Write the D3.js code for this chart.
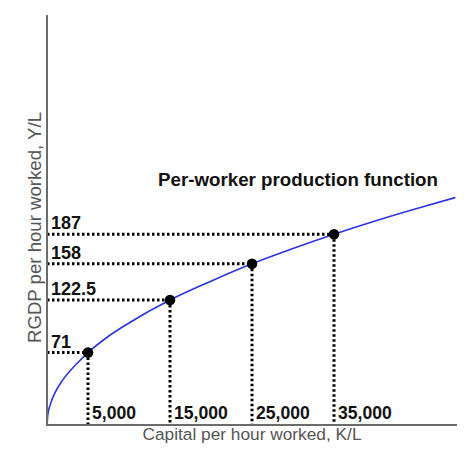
<!DOCTYPE html>
<html><head><meta charset="utf-8">
<script src="https://cdn.jsdelivr.net/npm/d3@7"></script>
<style>body{margin:0;background:#fff}svg{display:block}</style>
</head><body>
<svg id="c" width="474" height="462"></svg>
<script>
// marked points
const capital = [5000, 15000, 25000, 35000];
const output = [71, 122.5, 158, 187];
const xLabels = ["5,000", "15,000", "25,000", "35,000"];
const yLabels = ["71", "122.5", "158", "187"];
// curve points
const curveK = [0, 100, 400, 1000, 2000, 3500, 5000, 7500, 10000, 15000, 20000, 25000, 30000, 35000, 40000, 45000, 49800];
const curveY = [0, 10, 20, 32, 45, 59, 71, 87, 100, 122.5, 141, 158, 173, 187, 200, 212, 223];

const svg = d3.select("#c");
const x = d3.scaleLinear().domain([0, 50000]).range([47, 457]);
const y = d3.scaleLinear().domain([0, 400]).range([425, 17]);
const font = "Liberation Sans, Arial, sans-serif";

// curve
const line = d3.line().x((d,i)=>x(curveK[i])).y((d,i)=>y(curveY[i])).curve(d3.curveMonotoneX);
svg.append("path").attr("d", line(curveK)).attr("fill","none").attr("stroke","#2b35e0").attr("stroke-width",1.6);

// dotted guides
capital.forEach((k,i)=>{
  svg.append("line").attr("x1",x(0)).attr("x2",x(k)).attr("y1",y(output[i])).attr("y2",y(output[i]))
    .attr("stroke","#000").attr("stroke-width",3).attr("stroke-dasharray","2.5,2.5");
  svg.append("line").attr("x1",x(k)).attr("x2",x(k)).attr("y1",y(output[i])).attr("y2",y(0))
    .attr("stroke","#000").attr("stroke-width",3).attr("stroke-dasharray","2.5,2.5");
});

// axes
svg.append("line").attr("x1",x(0)).attr("x2",x(0)).attr("y1",15).attr("y2",y(0)).attr("stroke","#6b6b6b").attr("stroke-width",2);
svg.append("line").attr("x1",x(0)-1).attr("x2",457).attr("y1",y(0)).attr("y2",y(0)).attr("stroke","#6b6b6b").attr("stroke-width",2);

// points
capital.forEach((k,i)=>{
  svg.append("circle").attr("cx",x(k)).attr("cy",y(output[i])).attr("r",5.3).attr("fill","#000");
});

// labels
capital.forEach((k,i)=>{
  svg.append("text").attr("x",x(k)+4).attr("y",419).text(xLabels[i])
    .attr("font-family",font).attr("font-weight","bold").attr("font-size",17.6).attr("fill","#111");
  svg.append("text").attr("x",51).attr("y",y(output[i])-5).text(yLabels[i])
    .attr("font-family",font).attr("font-weight","bold").attr("font-size",18).attr("fill","#111");
});

svg.append("text").attr("x",158).attr("y",186).text("Per-worker production function")
  .attr("font-family",font).attr("font-weight","bold").attr("font-size",17.5).attr("fill","#111")
  .attr("textLength",280).attr("lengthAdjust","spacingAndGlyphs");

svg.append("text").attr("x",252).attr("y",440).attr("text-anchor","middle").text("Capital per hour worked, K/L")
  .attr("font-family",font).attr("font-size",17.4).attr("fill","#555")
  .attr("textLength",219).attr("lengthAdjust","spacingAndGlyphs");
svg.append("text").attr("transform","translate(41,227.5) rotate(-90)").attr("text-anchor","middle").text("RGDP per hour worked, Y/L")
  .attr("font-family",font).attr("font-size",18).attr("fill","#555")
  .attr("textLength",231).attr("lengthAdjust","spacingAndGlyphs");
</script>
</body></html>
